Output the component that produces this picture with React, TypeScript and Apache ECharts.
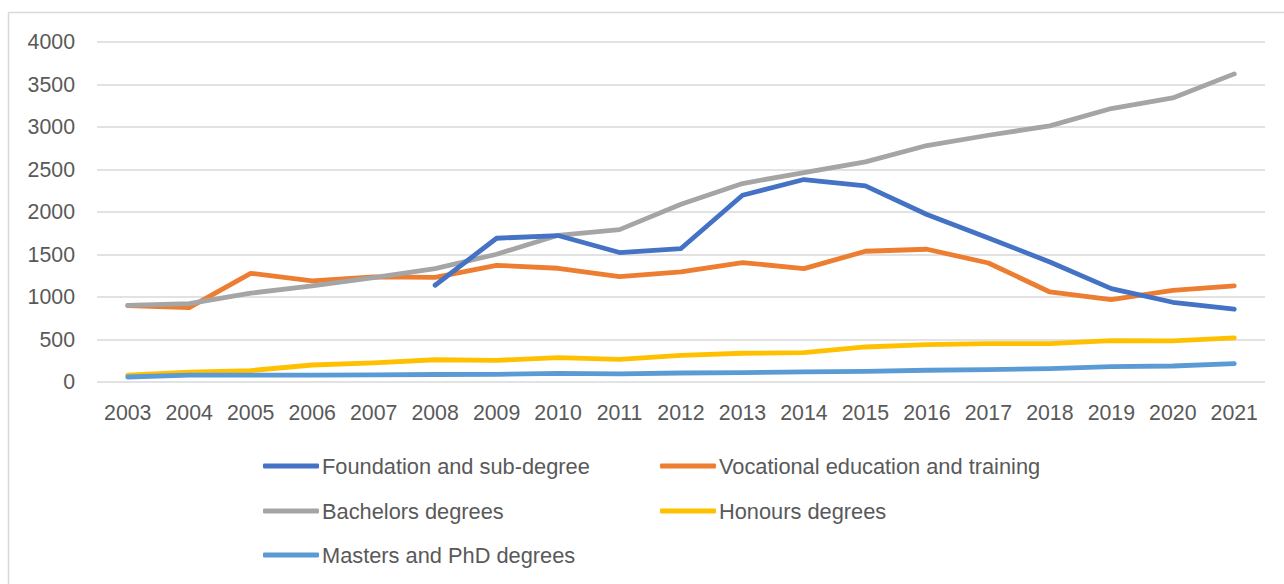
import React, { useEffect, useRef } from "react";
import * as echarts from "echarts";

const years = ["2003","2004","2005","2006","2007","2008","2009","2010","2011","2012","2013","2014","2015","2016","2017","2018","2019","2020","2021"];

const foundation = [null, null, null, null, null, 1138, 1691, 1723, 1523, 1570, 2197, 2382, 2307, 1970, 1695, 1412, 1099, 938, 856];
const vocational = [899, 876, 1279, 1189, 1236, 1232, 1373, 1338, 1240, 1295, 1405, 1334, 1538, 1562, 1400, 1059, 970, 1079, 1130];
const bachelors = [902, 922, 1045, 1130, 1228, 1334, 1503, 1726, 1793, 2091, 2335, 2464, 2589, 2782, 2903, 3013, 3217, 3342, 3625];
const honours = [80, 115, 135, 200, 224, 262, 255, 287, 267, 314, 338, 346, 412, 440, 452, 452, 487, 483, 518];
const masters = [59, 82, 82, 80, 85, 88, 90, 102, 95, 106, 110, 118, 126, 138, 146, 157, 181, 188, 216];

const names = [
  "Foundation and sub-degree",
  "Vocational education and training",
  "Bachelors degrees",
  "Honours degrees",
  "Masters and PhD degrees",
];
const colors = ["#4472C4", "#ED7D31", "#A5A5A5", "#FFC000", "#5B9BD5"];
const seriesData = [foundation, vocational, bachelors, honours, masters];

const FONT = "'Liberation Sans', Arial, sans-serif";

export default function App() {
  const ref = useRef<HTMLDivElement>(null);
  useEffect(() => {
    if (!ref.current) return;
    const chart = echarts.init(ref.current, null, { renderer: "svg" });
    const legendPos = [
      { left: 263, top: 454 },
      { left: 660, top: 454 },
      { left: 263, top: 499 },
      { left: 660, top: 499 },
      { left: 263, top: 543 },
    ];
    chart.setOption({
      animation: false,
      backgroundColor: "#ffffff",
      textStyle: { fontFamily: FONT },
      grid: { left: 97, right: 19, top: 42, bottom: 202, containLabel: false },
      xAxis: {
        type: "category",
        data: years,
        boundaryGap: true,
        axisLine: { show: false },
        axisTick: { show: false },
        axisLabel: { color: "#595959", fontSize: 21.3, fontFamily: FONT, margin: 20, interval: 0 },
      },
      yAxis: {
        type: "value",
        min: 0,
        max: 4000,
        interval: 500,
        axisLine: { show: false },
        axisTick: { show: false },
        splitLine: { lineStyle: { color: "#D9D9D9", width: 1.5 } },
        axisLabel: {
          color: "#595959",
          fontSize: 21.3,
          fontFamily: FONT,
          margin: 22,
          formatter: (v: number) => String(v),
        },
      },
      legend: names.map((n, i) => ({
        data: [n],
        left: legendPos[i].left,
        top: legendPos[i].top,
        padding: 0,
        icon: "roundRect",
        itemWidth: 56,
        itemHeight: 5,
        itemGap: 0,
        textStyle: { color: "#595959", fontSize: 21.8, fontFamily: FONT, lineHeight: 24, padding: [0, 0, 0, -2] },
      })),
      series: names.map((n, i) => ({
        name: n,
        type: "line",
        data: seriesData[i],
        showSymbol: false,
        symbol: "none",
        connectNulls: false,
        z: i === 0 ? 5 : 2 + i,
        lineStyle: { color: colors[i], width: 4.8, cap: "round", join: "round" },
        itemStyle: { color: colors[i] },
      })),
      graphic: [
        { type: "line", shape: { x1: 8.5, y1: 12.5, x2: 1284, y2: 12.5 }, style: { stroke: "#D9D9D9", lineWidth: 1.5 } },
        { type: "line", shape: { x1: 8.5, y1: 12.5, x2: 8.5, y2: 584 }, style: { stroke: "#D9D9D9", lineWidth: 1.5 } },
      ],
    });
    return () => chart.dispose();
  }, []);
  return (
    <div
      ref={ref}
      style={{ position: "fixed", left: 0, top: 0, width: 1284, height: 584 }}
    />
  );
}
